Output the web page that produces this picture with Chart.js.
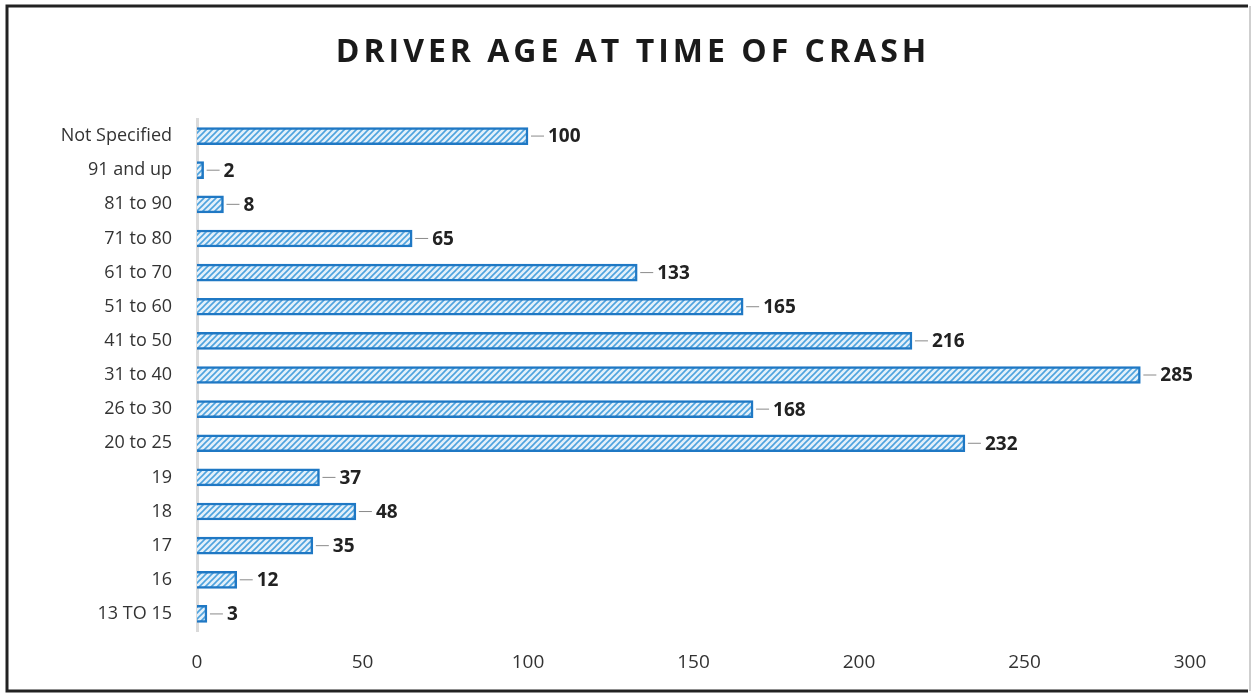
<!DOCTYPE html>
<html>
<head>
<meta charset="utf-8">
<script src="https://cdn.jsdelivr.net/npm/chart.js@4.4.1/dist/chart.umd.min.js"></script>
<style>
  html, body { margin: 0; padding: 0; background: #fff; }
  #wrap { width: 1254px; height: 700px; }
</style>
</head>
<body>
<div id="wrap"><canvas id="crash-chart" width="1254" height="700"></canvas></div>
<script>
// top to bottom as in the picture
var ageGroups = ['Not Specified', '91 and up', '81 to 90', '71 to 80', '61 to 70', '51 to 60', '41 to 50',
                 '31 to 40', '26 to 30', '20 to 25', '19', '18', '17', '16', '13 TO 15'];
var crashCounts = [100, 2, 8, 65, 133, 165, 216, 285, 168, 232, 37, 48, 35, 12, 3];
var xTicks = [0, 50, 100, 150, 200, 250, 300];
var chartTitle = 'DRIVER AGE AT TIME OF CRASH';

// hatched fill for the bars
function hatch() {
    var c = document.createElement('canvas');
    c.width = 6; c.height = 6;
    var g = c.getContext('2d');
    g.fillStyle = '#e3f0fa';
    g.fillRect(0, 0, 6, 6);
    g.strokeStyle = '#4ea3de';
    g.lineWidth = 1.6;
    g.beginPath();
    g.moveTo(-2, 8); g.lineTo(8, -2);
    g.moveTo(-2, 2); g.lineTo(2, -2);
    g.moveTo(4, 8); g.lineTo(8, 4);
    g.stroke();
    return g.createPattern(c, 'repeat');
}

var frameAndLabels = {
    id: 'frameAndLabels',
    afterDatasetsDraw: function (chart) {
        var ctx = chart.ctx;
        var meta = chart.getDatasetMeta(0);
        ctx.save();
        ctx.font = 'bold 19px "Open Sans"';
        ctx.fillStyle = '#222';
        ctx.textBaseline = 'middle';
        meta.data.forEach(function (bar, i) {
            var x = bar.x + 3;
            ctx.strokeStyle = '#8a8a8a';
            ctx.lineWidth = 1;
            ctx.beginPath();
            ctx.moveTo(x, bar.y);
            ctx.lineTo(x + 13, bar.y);
            ctx.stroke();
            ctx.fillText(crashCounts[i], x + 17, bar.y + 1);
        });
        ctx.restore();
    },
    afterDraw: function (chart) {
        var ctx = chart.ctx;
        ctx.save();
        ctx.font = 'bold 32px "Open Sans"';
        ctx.letterSpacing = '4px';
        ctx.fillStyle = '#1a1a1a';
        ctx.textAlign = 'center';
        ctx.textBaseline = 'middle';
        ctx.fillText(chartTitle, 633, 53);
        ctx.letterSpacing = '0px';
        // frame around the chart
        ctx.lineWidth = 3;
        ctx.strokeStyle = '#222';
        ctx.beginPath();
        ctx.moveTo(1248, 6); ctx.lineTo(7, 6); ctx.lineTo(7, 691); ctx.lineTo(1248, 691);
        ctx.stroke();
        ctx.strokeStyle = '#cfcfcf';
        ctx.lineWidth = 2;
        ctx.beginPath();
        ctx.moveTo(1250, 6); ctx.lineTo(1250, 691);
        ctx.stroke();
        ctx.restore();
    }
};

new Chart(document.getElementById('crash-chart'), {
    type: 'bar',
    data: {
        labels: ageGroups,
        datasets: [{
            label: 'Crashes',
            data: crashCounts,
            backgroundColor: hatch(),
            borderColor: '#1f78c4',
            borderWidth: 2.5,
            barThickness: 17
        }]
    },
    options: {
        indexAxis: 'y',
        responsive: false,
        animation: false,
        layout: { padding: { left: 10, right: 64, top: 119, bottom: 19 } },
        plugins: {
            legend: { display: false },
            title: { display: false },
            tooltip: { enabled: false }
        },
        scales: {
            x: {
                min: 0,
                max: 300,
                afterBuildTicks: function (scale) {
                    scale.ticks = xTicks.map(function (v) { return { value: v }; });
                },
                grid: { display: false, drawTicks: false },
                border: { display: false },
                ticks: { padding: 20, color: '#333', font: { family: 'Open Sans', size: 19 } },
                afterFit: function (scale) { scale.height = 50; }
            },
            y: {
                grid: { display: false, drawTicks: false },
                border: { color: '#dadada', width: 3 },
                ticks: { padding: 25, color: '#333', font: { family: 'Open Sans', size: 18 } },
                afterFit: function (scale) { scale.width = 187; }
            }
        }
    },
    plugins: [frameAndLabels]
});
</script>
</body>
</html>
